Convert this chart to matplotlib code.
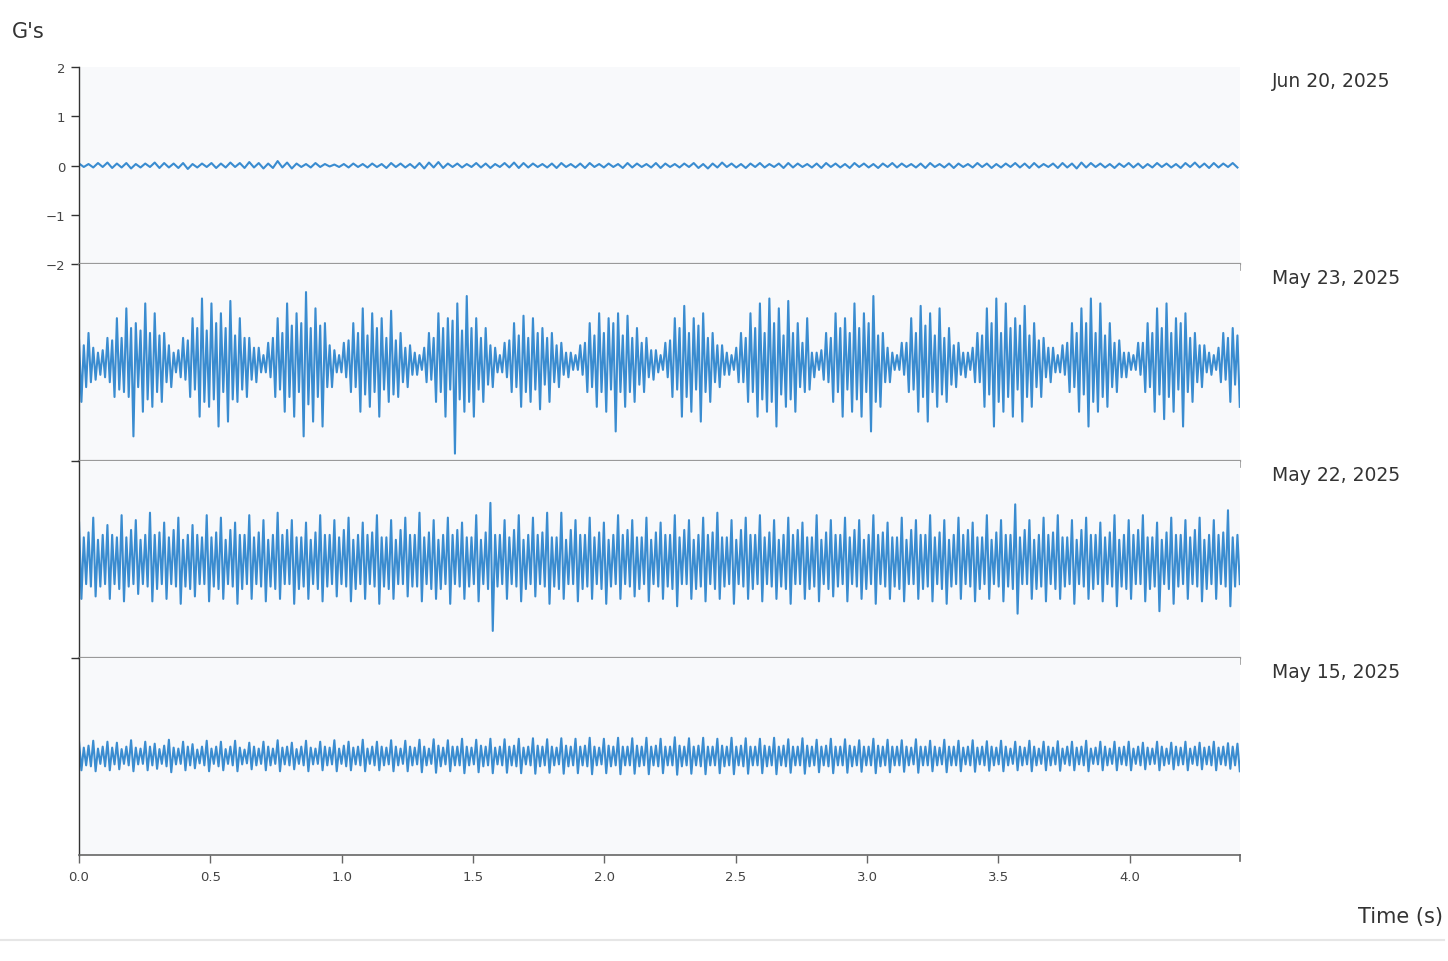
import numpy as np
import matplotlib.pyplot as plt
from matplotlib.lines import Line2D

# labels / ticks
dates = ['Jun 20, 2025', 'May 23, 2025', 'May 22, 2025', 'May 15, 2025']
x_ticks = [0.0, 0.5, 1.0, 1.5, 2.0, 2.5, 3.0, 3.5, 4.0]
y_ticks = [-2, -1, 0, 1, 2]
t_end = 4.42

# each trace is stored as max / min per time bin (G's)
bin_jun20 = 0.036
bin_s = 0.018

max_jun20 = [
    .04, .03, .05, .06, .04, .05, .03, .04, .06, .05,
    .04, .05, .03, .04, .05, .04, .06, .05, .07, .05,
    .04, .09, .06, .04, .03, .05, .03, .02, .03, .04,
    .03, .04, .03, .05, .04, .03, .05, .06, .07, .04,
    .04, .03, .05, .04, .03, .05, .06, .05, .04, .03,
    .04, .05, .03, .04, .05, .03, .04, .03, .05, .04,
    .03, .05, .04, .03, .04, .05, .03, .04, .06, .04,
    .03, .04, .05, .03, .04, .05, .04, .03, .04, .05,
    .04, .03, .05, .04, .03, .04, .05, .04, .03, .04,
    .05, .03, .04, .04, .03, .05, .04, .03, .04, .05,
    .04, .05, .03, .04, .05, .04, .06, .05, .04, .03,
    .04, .05, .04, .03, .05, .04, .03, .05, .06, .04,
    .05, .04, .05,
]
min_jun20 = [
    -.03, -.04, -.03, -.05, -.04, -.06, -.04, -.03, -.05, -.04,
    -.05, -.07, -.04, -.03, -.05, -.04, -.03, -.05, -.04, -.06,
    -.05, -.04, -.06, -.03, -.04, -.03, -.02, -.03, -.04, -.03,
    -.04, -.03, -.05, -.03, -.04, -.05, -.06, -.04, -.05, -.03,
    -.04, -.03, -.04, -.05, -.03, -.04, -.05, -.04, -.03, -.04,
    -.05, -.03, -.04, -.05, -.03, -.04, -.03, -.05, -.04, -.03,
    -.04, -.05, -.03, -.04, -.03, -.05, -.06, -.04, -.03, -.04,
    -.05, -.03, -.04, -.03, -.05, -.04, -.03, -.04, -.05, -.03,
    -.04, -.05, -.03, -.04, -.05, -.03, -.04, -.03, -.04, -.05,
    -.03, -.04, -.05, -.03, -.04, -.03, -.05, -.04, -.03, -.04,
    -.05, -.04, -.03, -.05, -.04, -.06, -.04, -.03, -.04, -.05,
    -.03, -.04, -.05, -.04, -.03, -.04, -.05, -.03, -.04, -.05,
    -.04, -.03, -.04,
]

max_may23 = [
    .45, .35, .6, .3, .2, .25, .5, .45, .9, .5,
    1.1, .7, .8, .65, 1.2, .6, 1.0, .55, .6, .35,
    .2, .25, .5, .45, .9, .7, 1.3, .65, 1.2, .8,
    1.0, .7, 1.25, .55, .9, .5, .5, .3, .3, .15,
    .4, .5, .9, .6, 1.2, .75, 1.0, .8, 1.43, .7,
    1.1, .75, .8, .35, .25, .15, .4, .45, .8, .6,
    1.1, .55, 1.0, .7, .9, .5, 1.05, .45, .6, .3,
    .35, .2, .15, .3, .6, .5, 1.0, .7, .9, .85,
    1.2, .65, 1.35, .7, .9, .5, .7, .35, .3, .15,
    .4, .45, .8, .55, .95, .5, .9, .6, .7, .5,
    .6, .35, .4, .2, .2, .15, .35, .4, .8, .55,
    1.0, .6, .9, .8, 1.0, .55, .95, .5, .7, .4,
    .5, .25, .25, .15, .4, .45, .9, .7, 1.15, .6,
    .9, .75, 1.0, .5, .6, .35, .35, .2, .15, .3,
    .6, .5, 1.0, .7, 1.2, .6, 1.3, .8, 1.1, .55,
    1.25, .6, .8, .4, .9, .2, .2, .25, .6, .5,
    1.0, .7, .9, .6, 1.2, .7, 1.0, .8, 1.35, .55,
    .6, .3, .2, .15, .4, .4, .9, .6, 1.15, .75,
    1.0, .55, 1.1, .5, .7, .35, .4, .2, .2, .3,
    .6, .55, 1.1, .8, 1.3, .6, 1.2, .7, .9, .75,
    1.15, .55, .8, .45, .5, .3, .3, .15, .35, .4,
    .8, .6, 1.1, .8, 1.3, .6, 1.2, .55, .8, .4,
    .45, .2, .2, .15, .4, .4, .8, .6, 1.1, .7,
    1.2, .6, .9, .8, 1.0, .5, .6, .35, .35, .2,
    .15, .3, .6, .5, .7, .55,
]
min_may23 = [
    -.8, -.5, -.4, -.35, -.25, -.3, -.4, -.7, -.55, -.6,
    -.7, -1.5, -.5, -1.0, -.75, -.9, -.6, -.8, -.4, -.5,
    -.2, -.3, -.35, -.7, -.55, -1.1, -.8, -.9, -.75, -1.3,
    -.6, -1.2, -.75, -.8, -.55, -.7, -.35, -.4, -.2, -.2,
    -.3, -.7, -.55, -1.0, -.7, -1.1, -.6, -1.5, -.85, -1.2,
    -.7, -1.3, -.5, -.5, -.2, -.2, -.3, -.6, -.5, -1.0,
    -.65, -.9, -.6, -1.1, -.55, -.8, -.65, -.7, -.4, -.5,
    -.25, -.25, -.15, -.4, -.35, -.8, -.6, -1.1, -.55, -1.85,
    -.75, -1.0, -.8, -1.1, -.55, -.8, -.45, -.5, -.2, -.2,
    -.3, -.6, -.5, -.9, -.6, -.8, -.55, -.95, -.45, -.8,
    -.4, -.5, -.25, -.3, -.15, -.15, -.25, -.6, -.5, -.9,
    -.6, -1.0, -.55, -1.4, -.6, -.9, -.6, -.8, -.45, -.6,
    -.3, -.35, -.2, -.15, -.3, -.7, -.55, -1.1, -.7, -1.0,
    -.55, -1.2, -.6, -.8, -.4, -.5, -.25, -.25, -.15, -.4,
    -.4, -.8, -.6, -1.1, -.75, -1.0, -.8, -1.3, -.65, -.9,
    -.75, -1.0, -.5, -.6, -.55, -.3, -.15, -.35, -.4, -.8,
    -.6, -1.1, -.55, -1.0, -.75, -1.1, -.6, -1.4, -.8, -.9,
    -.4, -.4, -.15, -.15, -.25, -.6, -.55, -1.0, -.7, -1.2,
    -.6, -.9, -.65, -.8, -.45, -.5, -.25, -.3, -.15, -.4,
    -.4, -.9, -.65, -1.3, -.8, -1.0, -.7, -1.1, -.55, -1.2,
    -.7, -.9, -.5, -.7, -.3, -.4, -.2, -.2, -.25, -.6,
    -.5, -1.0, -.65, -1.3, -.8, -1.0, -.7, -.9, -.5, -.6,
    -.3, -.3, -.15, -.15, -.25, -.6, -.5, -1.0, -.65, -1.15,
    -.7, -1.0, -.55, -1.3, -.6, -.8, -.4, -.5, -.2, -.25,
    -.15, -.4, -.35, -.8, -.45, -.9,
]

max_may22 = [
    .75, .45, .55, .85, .4, .5, .7, .5, .45, .9, .45, .6,
    .8, .4, .5, .95, .5, .55, .75, .45, .6, .85, .4, .5,
    .7, .5, .45, .9, .45, .55, .85, .4, .6, .75, .5, .5,
    .9, .45, .55, .8, .4, .5, .95, .5, .6, .8, .45, .45,
    .75, .4, .55, .9, .5, .5, .8, .45, .6, .85, .4, .5,
    .75, .5, .55, .9, .45, .45, .8, .4, .6, .85, .5, .5,
    .95, .45, .55, .8, .4, .5, .85, .5, .6, .75, .45, .45,
    .9, .4, .55, 1.15, .5, .5, .8, .45, .6, .9, .4, .5,
    .85, .5, .55, .95, .45, .45, .95, .4, .6, .8, .5, .5,
    .85, .45, .55, .75, .4, .5, .9, .5, .6, .8, .45, .45,
    .85, .4, .55, .75, .5, .5, .9, .45, .6, .8, .4, .5,
    .85, .5, .55, .95, .45, .45, .8, .4, .6, .85, .5, .5,
    .9, .45, .55, .8, .4, .5, .85, .5, .6, .75, .45, .45,
    .9, .4, .55, .8, .5, .5, .85, .45, .6, .8, .4, .5,
    .9, .5, .55, .75, .45, .45, .85, .4, .6, .8, .5, .5,
    .9, .45, .55, .8, .4, .5, .85, .5, .6, .75, .45, .45,
    .9, .4, .55, .8, .5, .5, 1.12, .45, .6, .8, .4, .5,
    .85, .5, .55, .9, .45, .45, .8, .4, .6, .85, .5, .5,
    .75, .45, .55, .9, .4, .5, .8, .5, .6, .9, .45, .45,
    .75, .4, .55, .85, .5, .5, .8, .45, .6, .85, .4, .5,
    .8, .5, .55, 1.0, .45, .5,
]
min_may22 = [
    -.8, -.5, -.55, -.75, -.55, -.5, -.8, -.5, -.6, -.85, -.55, -.5,
    -.7, -.5, -.55, -.85, -.6, -.5, -.8, -.5, -.55, -.9, -.55, -.6,
    -.75, -.5, -.5, -.85, -.55, -.6, -.8, -.5, -.55, -.9, -.6, -.5,
    -.8, -.5, -.55, -.85, -.55, -.6, -.8, -.5, -.5, -.9, -.6, -.55,
    -.8, -.5, -.6, -.85, -.55, -.5, -.75, -.5, -.55, -.85, -.6, -.5,
    -.8, -.5, -.55, -.9, -.55, -.6, -.8, -.5, -.5, -.75, -.55, -.55,
    -.85, -.5, -.6, -.8, -.6, -.5, -.9, -.5, -.55, -.8, -.55, -.5,
    -.85, -.5, -.6, -1.45, -.55, -.5, -.8, -.5, -.55, -.85, -.6, -.5,
    -.75, -.5, -.55, -.9, -.55, -.6, -.8, -.5, -.5, -.85, -.6, -.55,
    -.8, -.5, -.6, -.9, -.55, -.5, -.8, -.5, -.55, -.75, -.6, -.5,
    -.85, -.5, -.55, -.8, -.55, -.6, -.95, -.5, -.5, -.8, -.6, -.55,
    -.85, -.5, -.6, -.8, -.55, -.5, -.9, -.5, -.55, -.8, -.6, -.5,
    -.85, -.5, -.55, -.8, -.55, -.6, -.9, -.5, -.5, -.8, -.6, -.55,
    -.85, -.5, -.6, -.75, -.55, -.5, -.85, -.5, -.55, -.8, -.6, -.5,
    -.9, -.5, -.55, -.8, -.55, -.6, -.85, -.5, -.5, -.8, -.6, -.55,
    -.85, -.5, -.6, -.9, -.55, -.5, -.8, -.5, -.55, -.85, -.6, -.5,
    -.8, -.5, -.55, -.85, -.55, -.6, -1.1, -.5, -.5, -.8, -.6, -.55,
    -.85, -.5, -.6, -.8, -.55, -.5, -.9, -.5, -.55, -.8, -.6, -.5,
    -.85, -.5, -.55, -.95, -.55, -.6, -.8, -.5, -.5, -.85, -.6, -.55,
    -1.05, -.5, -.6, -.9, -.55, -.5, -.8, -.5, -.55, -.85, -.6, -.5,
    -.8, -.5, -.55, -.95, -.55, -.5,
]

max_may15 = [
    .3, .18, .22, .32, .16, .2, .3, .18, .28, .15,
    .2, .33, .18, .16, .3, .2, .26, .15, .22, .34,
    .18, .16, .3, .2, .25, .14, .2, .32, .16, .2,
    .3, .15, .2, .32, .18, .14, .28, .2, .16, .3,
    .2, .16, .33, .18, .2, .28, .15, .2, .32, .18,
    .16, .3, .2, .18, .33, .16, .22, .3, .18, .2,
    .34, .16, .2, .3, .2, .18, .33, .2, .16, .32,
    .2, .18, .34, .2, .16, .35, .22, .18, .33, .2,
    .2, .36, .2, .18, .34, .22, .2, .36, .18, .2,
    .35, .2, .22, .36, .18, .2, .37, .22, .2, .35,
    .2, .18, .37, .22, .2, .36, .2, .22, .38, .2,
    .18, .36, .22, .2, .38, .2, .2, .37, .22, .2,
    .38, .2, .22, .36, .2, .2, .39, .22, .2, .37,
    .2, .22, .38, .2, .2, .36, .22, .2, .38, .2,
    .22, .37, .2, .2, .36, .22, .2, .38, .2, .22,
    .35, .2, .2, .37, .22, .2, .34, .2, .22, .36,
    .2, .2, .35, .22, .2, .33, .2, .2, .36, .22,
    .2, .34, .2, .2, .33, .2, .18, .35, .2, .2,
    .32, .2, .18, .34, .2, .2, .32, .18, .2, .33,
    .18, .2, .31, .2, .18, .32, .2, .16, .3, .2,
    .18, .32, .2, .16, .3, .2, .18, .31, .16, .2,
    .3, .18, .2, .32, .16, .18, .3, .2, .16, .3,
    .18, .2, .3, .16, .2, .28, .18, .16, .3, .2,
    .16, .28, .2, .18, .3, .16, .2, .28, .18, .2,
    .3, .18, .2, .27, .2, .26,
]
min_may15 = [
    -.28, -.18, -.2, -.3, -.15, -.2, -.28, -.16, -.26, -.15,
    -.18, -.3, -.16, -.15, -.28, -.18, -.25, -.15, -.2, -.32,
    -.16, -.15, -.28, -.18, -.24, -.14, -.18, -.3, -.15, -.2,
    -.28, -.15, -.18, -.3, -.16, -.14, -.26, -.18, -.15, -.28,
    -.18, -.15, -.3, -.16, -.18, -.26, -.15, -.18, -.3, -.16,
    -.15, -.28, -.18, -.16, -.3, -.15, -.2, -.28, -.16, -.18,
    -.3, -.15, -.18, -.28, -.18, -.16, -.3, -.18, -.15, -.3,
    -.18, -.16, -.32, -.18, -.15, -.33, -.2, -.16, -.3, -.18,
    -.18, -.34, -.18, -.16, -.32, -.2, -.18, -.34, -.16, -.18,
    -.33, -.18, -.2, -.34, -.16, -.18, -.35, -.2, -.18, -.33,
    -.18, -.16, -.35, -.2, -.18, -.34, -.18, -.2, -.36, -.18,
    -.16, -.34, -.2, -.18, -.36, -.18, -.18, -.35, -.2, -.18,
    -.36, -.18, -.2, -.34, -.18, -.18, -.37, -.2, -.18, -.35,
    -.18, -.2, -.36, -.18, -.18, -.34, -.2, -.18, -.36, -.18,
    -.2, -.35, -.18, -.18, -.34, -.2, -.18, -.36, -.18, -.2,
    -.33, -.18, -.18, -.35, -.2, -.18, -.32, -.18, -.2, -.34,
    -.18, -.18, -.33, -.2, -.18, -.31, -.18, -.18, -.34, -.2,
    -.18, -.32, -.18, -.18, -.31, -.18, -.16, -.33, -.18, -.18,
    -.3, -.18, -.16, -.32, -.18, -.18, -.3, -.16, -.18, -.31,
    -.16, -.18, -.29, -.18, -.16, -.3, -.18, -.15, -.28, -.18,
    -.16, -.3, -.18, -.15, -.28, -.18, -.16, -.29, -.15, -.18,
    -.28, -.16, -.18, -.3, -.15, -.16, -.28, -.18, -.15, -.28,
    -.16, -.18, -.28, -.15, -.18, -.26, -.16, -.15, -.28, -.18,
    -.15, -.26, -.18, -.16, -.28, -.15, -.18, -.26, -.16, -.18,
    -.28, -.16, -.18, -.25, -.18, -.3,
]

series = [
    (bin_jun20, max_jun20, min_jun20),
    (bin_s, max_may23, min_may23),
    (bin_s, max_may22, min_may22),
    (bin_s, max_may15, min_may15),
]

fig = plt.figure(figsize=(14.48, 9.62), dpi=100)
axes = fig.subplots(4, 1, sharex=True, gridspec_kw=dict(hspace=0))
fig.subplots_adjust(left=0.0546, right=0.8564, top=0.9293, bottom=0.1102)

for i, (ax, (step, hi, lo)) in enumerate(zip(axes, series)):
    # min/max envelope drawn as one zig-zag trace, as a decimated waveform
    g = np.column_stack([hi, lo]).ravel()
    t = np.arange(len(g)) * step / 2
    ax.plot(t, g, color='#3a8cd0', lw=1.5)
    ax.set_xlim(0, t_end)
    ax.set_ylim(-2, 2)
    ax.set_facecolor('#f8f9fb')
    ax.spines['top'].set_visible(False)
    ax.spines['right'].set_visible(False)
    ax.spines['left'].set_color('#333333')
    ax.spines['left'].set_linewidth(1.0)
    last = i == len(axes) - 1
    sep = '#666666' if last else '#9a9a9a'
    ax.spines['bottom'].set_color(sep)
    ax.spines['bottom'].set_linewidth(1.2 if last else 1.6)
    # outer tick at right end of each separator / axis
    ax.plot([t_end, t_end], [-2, -2.13], color=sep, lw=1.2, clip_on=False)
    ax.text(1.0276, 0.929, dates[i], transform=ax.transAxes, ha='left',
            va='center', fontsize=13.5, color='#333333')
    if i == 0:
        ax.set_yticks(y_ticks)
        ax.set_yticklabels([str(v).replace('-', '\u2212') for v in y_ticks])
    elif i == 1:
        ax.set_yticks([])
    else:
        ax.set_yticks([2])
        ax.set_yticklabels([''])
    ax.tick_params(axis='y', length=6, width=1, color='#333333',
                   labelsize=9.5, labelcolor='#444444', pad=4)
    if not last:
        ax.tick_params(axis='x', bottom=False, labelbottom=False)

ax = axes[-1]
ax.set_xticks(x_ticks)
ax.set_xticklabels(['%.1f' % v for v in x_ticks])
ax.tick_params(axis='x', length=6, width=1, color='#666666',
               labelsize=9.5, labelcolor='#444444', pad=5)

fig.text(12 / 1448, 1 - 32 / 962, "G's", fontsize=15, ha='left', va='center',
         color='#333333')
fig.text(1443 / 1448, 1 - 917 / 962, 'Time (s)', fontsize=15, ha='right',
         va='center', color='#333333')
fig.add_artist(Line2D([0, 0.997], [1 - 941 / 962, 1 - 941 / 962],
                      color='#e6e6e6', lw=1.5))

fig.savefig('out.png', dpi=100)
